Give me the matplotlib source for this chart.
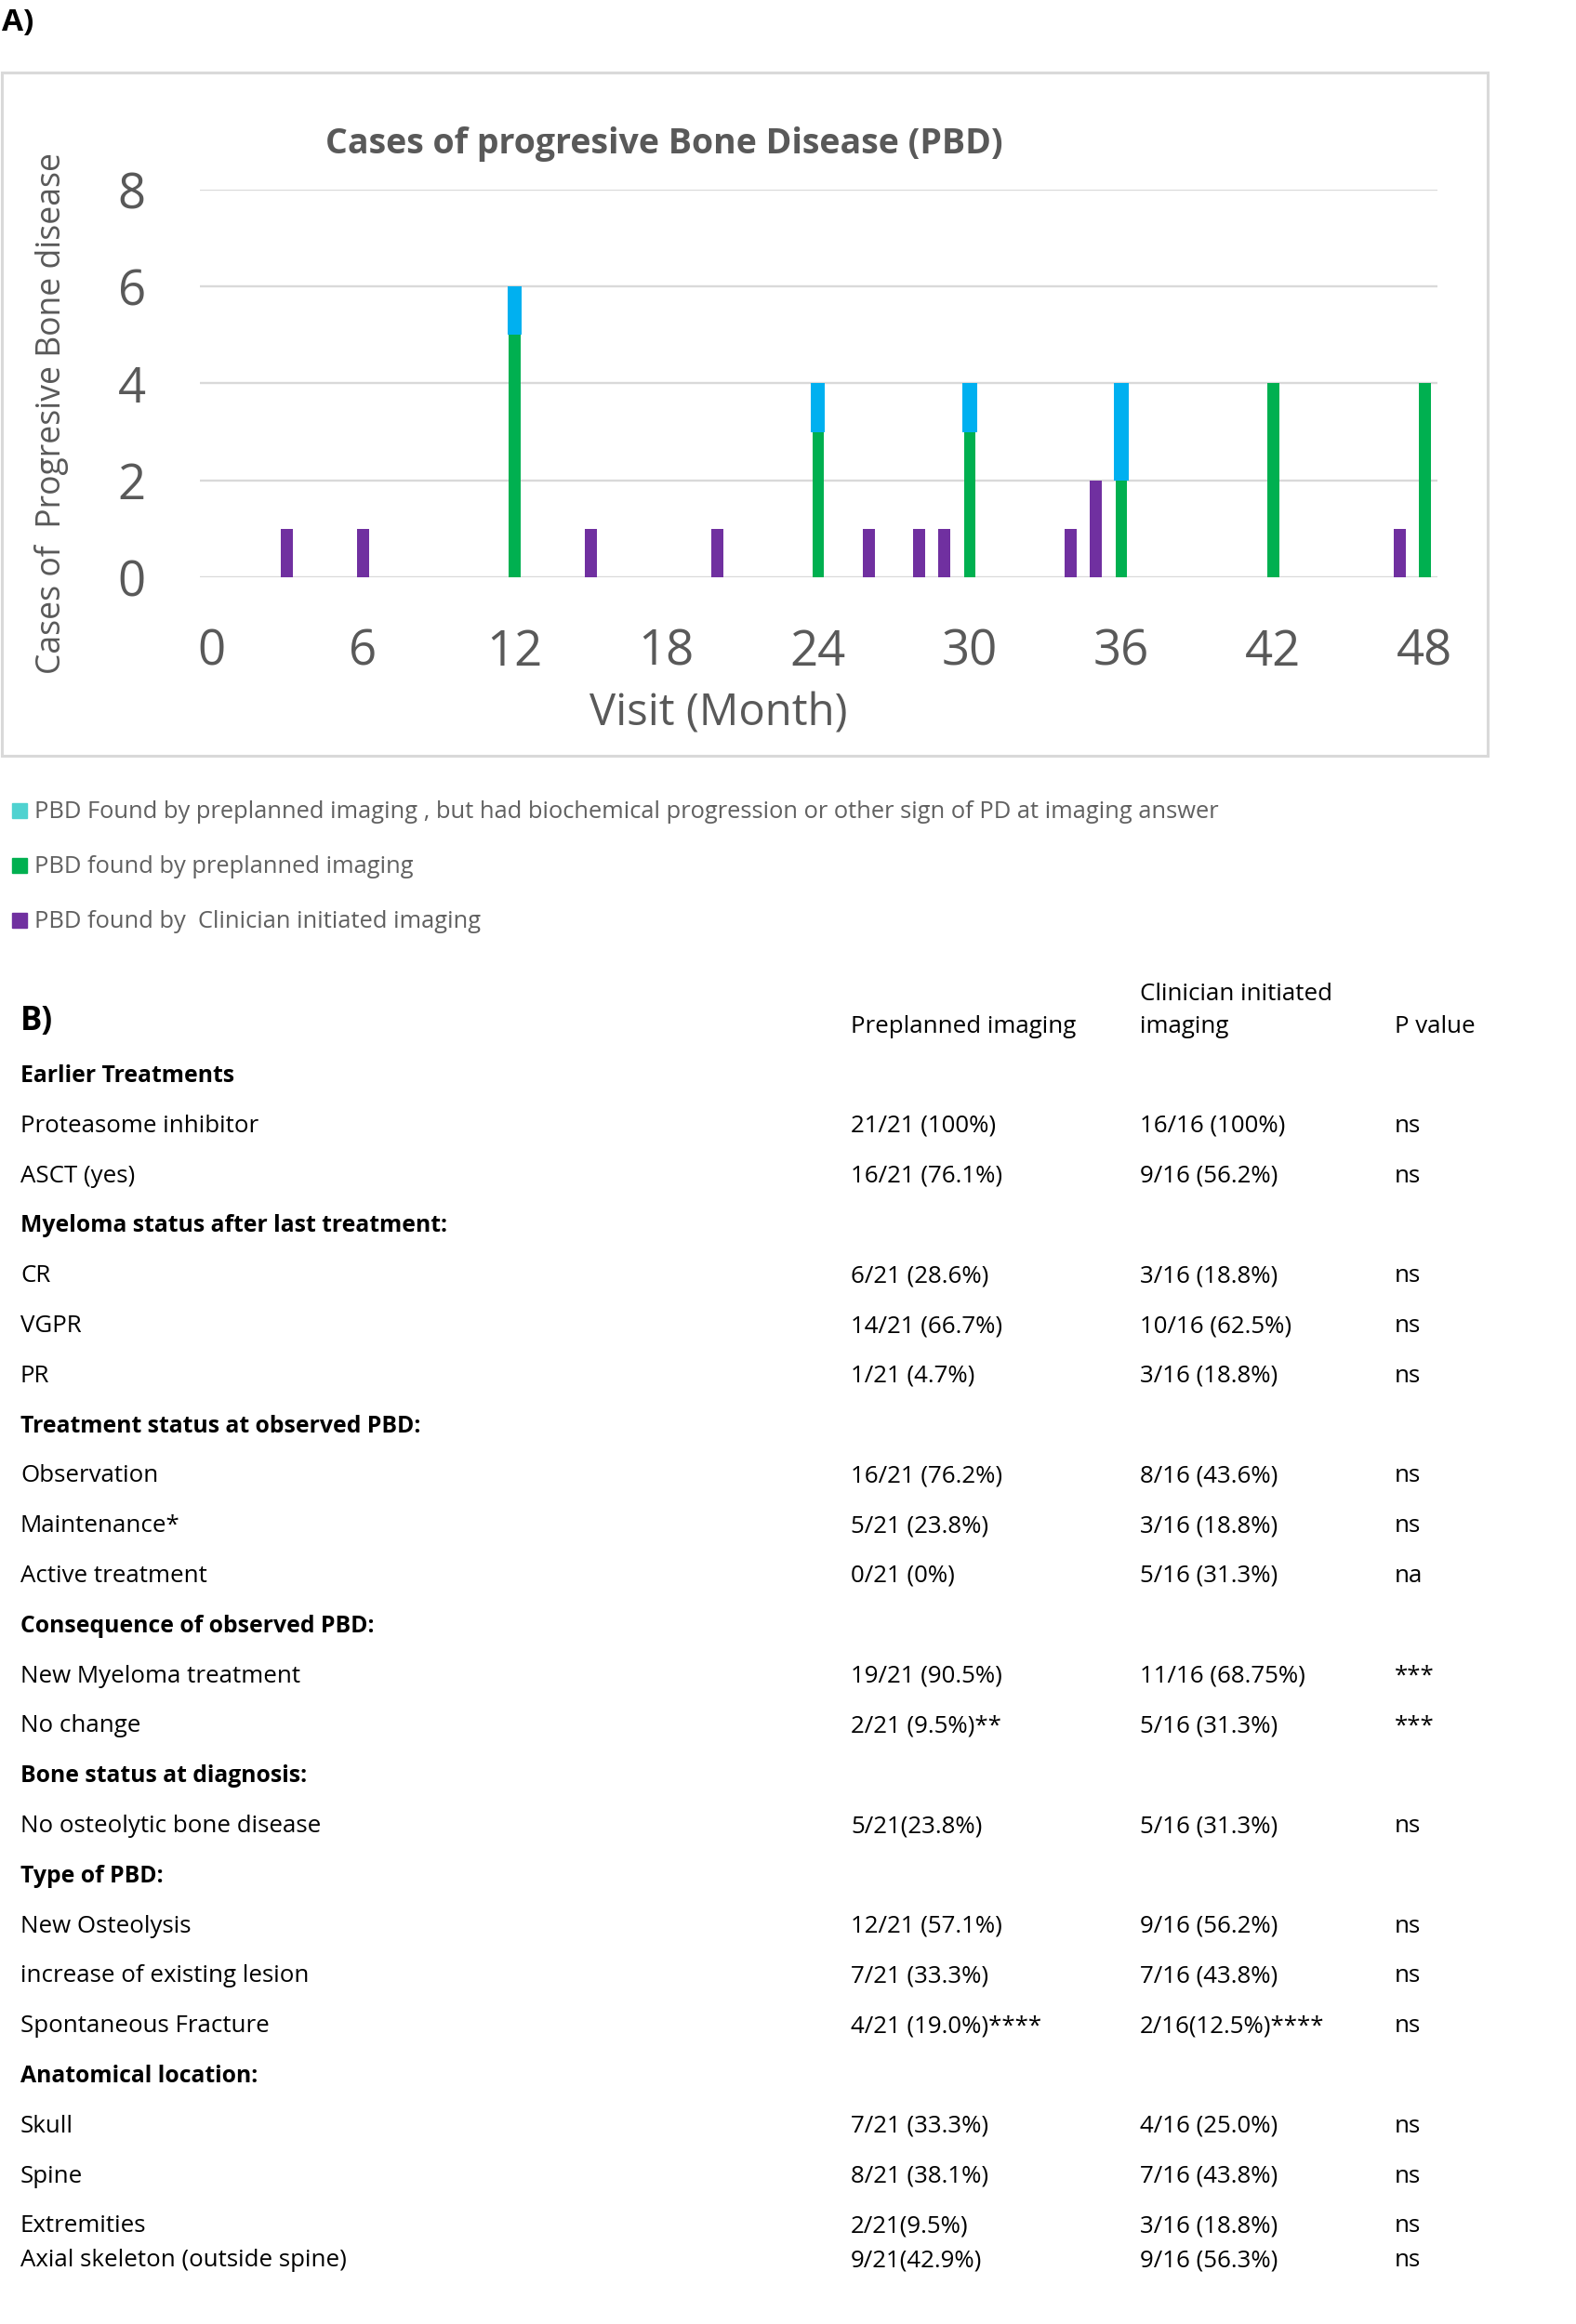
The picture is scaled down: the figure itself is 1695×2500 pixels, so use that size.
"""Panel A: progressive bone disease cases per visit; panel B: comparison table."""

import matplotlib.pyplot as plt
from matplotlib.patches import Rectangle

# ---- panel A data ---------------------------------------------------------
clinician_months = [3, 6, 15, 20, 26, 28, 29, 34, 35, 47]
clinician_cases = [1, 1, 1, 1, 1, 1, 1, 1, 2, 1]
preplanned_months = [12, 24, 30, 36, 42, 48]
preplanned_cases = [5, 3, 3, 2, 4, 4]
biochem_months = [12, 24, 30, 36]
biochem_cases = [1, 1, 1, 2]

month_ticks = [0, 6, 12, 18, 24, 30, 36, 42, 48]
case_ticks = [0, 2, 4, 6, 8]

legend_labels = [
    "PBD Found by preplanned imaging , but had biochemical progression or other sign of PD at imaging answer",
    "PBD found by preplanned imaging",
    "PBD found by  Clinician initiated imaging",
]

# ---- panel B data ---------------------------------------------------------
column_headers = ["Preplanned imaging", "Clinician initiated\nimaging", "P value"]
row_labels = [
    "Earlier Treatments", "Proteasome inhibitor", "ASCT (yes)",
    "Myeloma status after last treatment:", "CR", "VGPR", "PR",
    "Treatment status at observed PBD:", "Observation", "Maintenance*", "Active treatment",
    "Consequence of observed PBD:", "New Myeloma treatment", "No change",
    "Bone status at diagnosis:", "No osteolytic bone disease",
    "Type of PBD:", "New Osteolysis", "increase of existing lesion", "Spontaneous Fracture",
    "Anatomical location:", "Skull", "Spine", "Extremities", "Axial skeleton (outside spine)",
]
is_section = [
    True, False, False,
    True, False, False, False,
    True, False, False, False,
    True, False, False,
    True, False,
    True, False, False, False,
    True, False, False, False, False,
]
preplanned_col = [
    "", "21/21 (100%)", "16/21 (76.1%)",
    "", "6/21 (28.6%)", "14/21 (66.7%)", "1/21 (4.7%)",
    "", "16/21 (76.2%)", "5/21 (23.8%)", "0/21 (0%)",
    "", "19/21 (90.5%)", "2/21 (9.5%)**",
    "", "5/21(23.8%)",
    "", "12/21 (57.1%)", "7/21 (33.3%)", "4/21 (19.0%)****",
    "", "7/21 (33.3%)", "8/21 (38.1%)", "2/21(9.5%)", "9/21(42.9%)",
]
clinician_col = [
    "", "16/16 (100%)", "9/16 (56.2%)",
    "", "3/16 (18.8%)", "10/16 (62.5%)", "3/16 (18.8%)",
    "", "8/16 (43.6%)", "3/16 (18.8%)", "5/16 (31.3%)",
    "", "11/16 (68.75%)", "5/16 (31.3%)",
    "", "5/16 (31.3%)",
    "", "9/16 (56.2%)", "7/16 (43.8%)", "2/16(12.5%)****",
    "", "4/16 (25.0%)", "7/16 (43.8%)", "3/16 (18.8%)", "9/16 (56.3%)",
]
p_values = [
    "", "ns", "ns",
    "", "ns", "ns", "ns",
    "", "ns", "ns", "na",
    "", "***", "***",
    "", "ns",
    "", "ns", "ns", "ns",
    "", "ns", "ns", "ns", "ns",
]

# ---- style ----------------------------------------------------------------
PURPLE = "#7030A0"
GREEN = "#00B050"
CYAN = "#00B0F0"
CYAN_KEY = "#4FD2D0"
GREY_TEXT = "#595959"
GRID = "#D9D9D9"
FONT = ["Open Sans", "DejaVu Sans"]

W, H = 1695, 2500


def fx(x):
    return x / W


def fy(y):
    return 1 - y / H


plt.rcParams["font.family"] = FONT
fig = plt.figure(figsize=(W / 100, H / 100), dpi=100)

# panel letters
fig.text(fx(2), fy(33), "A)", fontsize=24, fontweight="bold", color="black", va="baseline")
fig.text(fx(22), fy(1108), "B)", fontsize=25, fontweight="bold", color="black", va="baseline")

# chart frame
fig.patches.append(Rectangle((fx(2), fy(813)), fx(1598), (813 - 78) / H,
                             transform=fig.transFigure, fill=False,
                             edgecolor=GRID, linewidth=2.2))

ax_left, ax_right, ax_top, ax_bottom = 215, 1546, 204, 621
ax = fig.add_axes([fx(ax_left), fy(ax_bottom), (ax_right - ax_left) / W, (ax_bottom - ax_top) / H])

cyan_bottom = [preplanned_cases[preplanned_months.index(m)] for m in biochem_months]
ax.bar(clinician_months, clinician_cases, width=0.48, color=PURPLE, zorder=3)
ax.bar(preplanned_months, preplanned_cases, width=0.46, color=GREEN, zorder=3)
ax.bar(biochem_months, biochem_cases, bottom=cyan_bottom, width=0.56, color=CYAN, zorder=3)

ax.set_xlim(-0.45, 48.5)
ax.set_ylim(0, 8)
ax.set_xticks(month_ticks)
ax.set_yticks(case_ticks)
ax.tick_params(axis="both", length=0, labelsize=38, labelcolor=GREY_TEXT)
ax.tick_params(axis="y", pad=42)
ax.tick_params(axis="x", pad=39)
ax.yaxis.grid(True, color=GRID, linewidth=1.7, zorder=0)
ax.set_axisbelow(True)
for spine in ax.spines.values():
    spine.set_visible(False)

ax.set_xlabel("Visit (Month)", fontsize=34, color=GREY_TEXT)
ax.xaxis.set_label_coords((773 - ax_left) / (ax_right - ax_left), (ax_bottom - 781) / (ax_bottom - ax_top))
ax.xaxis.label.set_verticalalignment("baseline")
ax.set_ylabel("Cases of  Progresive Bone disease", fontsize=25.6, color=GREY_TEXT)
ax.yaxis.set_label_coords((55 - ax_left) / (ax_right - ax_left), (ax_bottom - 445) / (ax_bottom - ax_top))
ax.yaxis.label.set_verticalalignment("center")

fig.text(fx(714), fy(165), "Cases of progresive Bone Disease (PBD)", fontsize=27,
         fontweight="bold", color=GREY_TEXT, ha="center", va="baseline")

# legend below the chart
key_colors = [CYAN_KEY, GREEN, PURPLE]
for i, (label, colour) in enumerate(zip(legend_labels, key_colors)):
    base = 880 + i * 59
    fig.patches.append(Rectangle((fx(13), fy(base)), 16 / W, 16 / H,
                                 transform=fig.transFigure, color=colour))
    fig.text(fx(37), fy(base), label, fontsize=18.4, color="#606060", va="baseline")

# ---- panel B table --------------------------------------------------------
col_x = [22, 915, 1226, 1500]
fig.text(fx(col_x[1]), fy(1111), column_headers[0], fontsize=18.6, va="baseline")
fig.text(fx(col_x[2]), fy(1111), column_headers[1], fontsize=18.6, va="baseline",
         linespacing=1.5)
fig.text(fx(col_x[3]), fy(1111), column_headers[2], fontsize=18.6, va="baseline")

row_base = [1164 + i * 53.8 for i in range(len(row_labels) - 1)]
row_base.append(row_base[-1] + 37)
for i, label in enumerate(row_labels):
    y = fy(row_base[i])
    if is_section[i]:
        fig.text(fx(col_x[0]), y, label, fontsize=17.8, fontweight="bold", va="baseline")
    else:
        fig.text(fx(col_x[0]), y, label, fontsize=18.6, va="baseline")
    fig.text(fx(col_x[1]), y, preplanned_col[i], fontsize=18.6, va="baseline")
    fig.text(fx(col_x[2]), y, clinician_col[i], fontsize=18.6, va="baseline")
    fig.text(fx(col_x[3]), y, p_values[i], fontsize=18.6, va="baseline")

fig.savefig("out.png", dpi=100, facecolor="white")
